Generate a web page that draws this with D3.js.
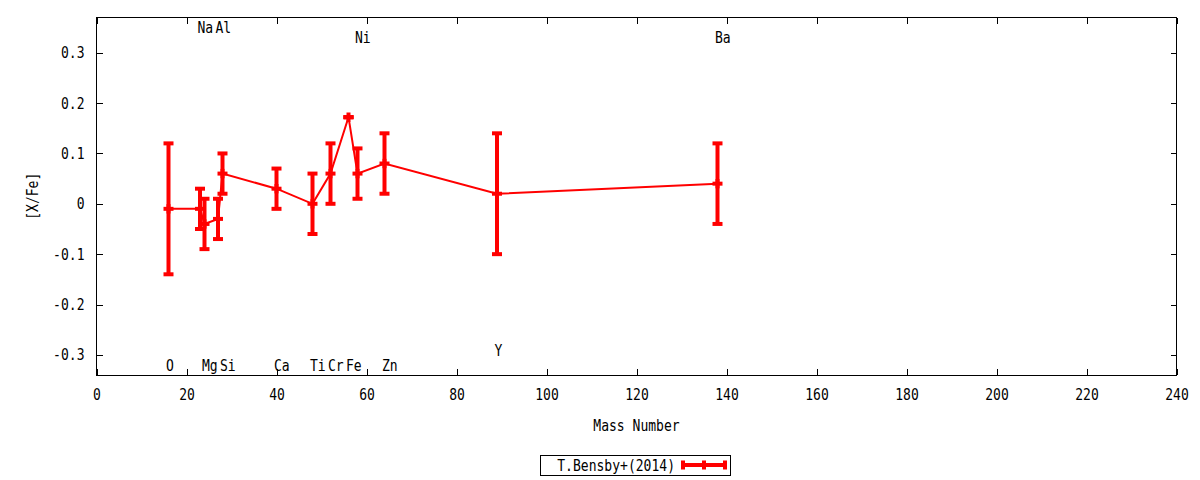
<!DOCTYPE html>
<html><head><meta charset="utf-8">
<script src="https://cdn.jsdelivr.net/npm/d3@7"></script>
<style>
body{margin:0;background:#fff;}
text{font-family:"DejaVu Sans Mono",monospace;font-size:16px;fill:#000;}
</style></head>
<body><svg id="c" width="1200" height="480"></svg>
<script>
// data
const elements = ["O","Na","Mg","Al","Si","Ca","Ti","Cr","Fe","Ni","Zn","Y","Ba"];
const massNumbers = [16,23,24,27,28,40,48,52,56,58,64,89,138];
const xFe = [-0.01,-0.01,-0.04,-0.03,0.06,0.03,0.00,0.06,0.172,0.06,0.08,0.02,0.04];
const xFeErr = [0.13,0.04,0.05,0.04,0.04,0.04,0.06,0.06,0.0,0.05,0.06,0.12,0.08];
// element label positions (mass, [X/Fe])
const labelNames = ["O","Na","Mg","Al","Si","Ca","Ti","Cr","Fe","Ni","Zn","Y","Ba"];
const labelX = [16,23,24,27,28,40,48,52,56,58,64,89,138];
const labelY = [-0.32,0.35,-0.32,0.35,-0.32,-0.32,-0.32,-0.32,-0.32,0.33,-0.32,-0.29,0.33];
const xTicks = [0,20,40,60,80,100,120,140,160,180,200,220,240];
const yTicks = [-0.3,-0.2,-0.1,0,0.1,0.2,0.3];
const yTickLabels = ["-0.3","-0.2","-0.1","0","0.1","0.2","0.3"];
const seriesName = "T.Bensby+(2014)";
const xDomain = [0,240];
const yDomain = [-0.34,0.37];

const svg = d3.select("#c");
const L=96.5, R=1176.5, T=17.5, B=375;
const x = d3.scaleLinear().domain(xDomain).range([L,R]);
const y = d3.scaleLinear().domain(yDomain).range([B,T]);
const red = "#ff0000";
const tick = 6;
const charW = 7.85;
function fit(sel){
  sel.each(function(){
    const t = d3.select(this).text();
    if(t.length) d3.select(this).attr("textLength", t.length*charW).attr("lengthAdjust","spacingAndGlyphs");
  });
  return sel;
}

// axes
const xb = svg.append("g").attr("transform",`translate(0,${B})`)
  .call(d3.axisBottom(x).tickValues(xTicks).tickSize(-tick).tickPadding(13.6).tickFormat(d3.format("d")));
const xt = svg.append("g").attr("transform",`translate(0,${T})`)
  .call(d3.axisTop(x).tickValues(xTicks).tickSize(-tick).tickFormat(""));
const yl = svg.append("g").attr("transform",`translate(${L},0)`)
  .call(d3.axisLeft(y).tickValues(yTicks).tickSize(-tick).tickPadding(12).tickFormat((d,i)=>yTickLabels[i]));
const yr = svg.append("g").attr("transform",`translate(${R},0)`)
  .call(d3.axisRight(y).tickValues(yTicks).tickSize(-tick).tickFormat(""));
[xb,xt,yl,yr].forEach(g=>{
  g.select(".domain").remove();
  g.selectAll("line").attr("stroke","#000").attr("stroke-width",1).attr("shape-rendering","crispEdges");
  g.selectAll("text").attr("font-family",null).attr("font-size",null).style("fill","#000");
  fit(g.selectAll("text"));
});
svg.append("rect").attr("x",L).attr("y",T).attr("width",R-L).attr("height",B-T)
  .attr("fill","none").attr("stroke","#000").attr("stroke-width",1).attr("shape-rendering","crispEdges");

// axis titles
fit(svg.append("text").attr("x",(L+R)/2).attr("y",430.5).attr("text-anchor","middle").text("Mass Number"));
fit(svg.append("text").attr("transform",`translate(38,${(T+B)/2}) rotate(-90)`).attr("text-anchor","middle").text("[X/Fe]"));

// element labels
fit(svg.append("g").selectAll("text").data(labelNames).join("text")
  .attr("x",(d,i)=>x(labelX[i])-2.5).attr("y",(d,i)=>y(labelY[i])+5.8)
  .text(d=>d));

// data
const pts = elements.map((e,i)=>({m:massNumbers[i],v:xFe[i],e:xFeErr[i]}));
const line = d3.line().x(d=>x(d.m)).y(d=>y(d.v));
const plot = svg.append("g");
plot.append("path").datum(pts).attr("d",line).attr("fill","none").attr("stroke",red).attr("stroke-width",2);
const capW = 5;
const eb = plot.selectAll("g.eb").data(pts).join("g");
// error bar
eb.append("line").attr("x1",d=>x(d.m)).attr("x2",d=>x(d.m)).attr("y1",d=>y(d.v+d.e)).attr("y2",d=>y(d.v-d.e))
  .attr("stroke",red).attr("stroke-width",4);
// caps and centre
[d=>d.v+d.e, d=>d.v-d.e, d=>d.v].forEach(f=>{
  eb.append("line").attr("x1",d=>x(d.m)-capW).attr("x2",d=>x(d.m)+capW).attr("y1",d=>y(f(d))).attr("y2",d=>y(f(d)))
    .attr("stroke",red).attr("stroke-width",4);
});
// plus point marker vertical stroke
eb.append("line").attr("x1",d=>x(d.m)).attr("x2",d=>x(d.m)).attr("y1",d=>y(d.v)-4.7).attr("y2",d=>y(d.v)+4.7)
  .attr("stroke",red).attr("stroke-width",4);

// legend
const lg = svg.append("g");
lg.append("rect").attr("x",540.5).attr("y",455.5).attr("width",190).attr("height",20)
  .attr("fill","#fff").attr("stroke","#000").attr("stroke-width",1).attr("shape-rendering","crispEdges");
fit(lg.append("text").attr("x",675).attr("y",471).attr("text-anchor","end").text(seriesName));
lg.append("line").attr("x1",683).attr("x2",725).attr("y1",465).attr("y2",465).attr("stroke",red).attr("stroke-width",4);
[683,704,725].forEach(px=>{
  lg.append("line").attr("x1",px).attr("x2",px).attr("y1",460.5).attr("y2",469.5).attr("stroke",red).attr("stroke-width",4);
});
</script></body></html>
